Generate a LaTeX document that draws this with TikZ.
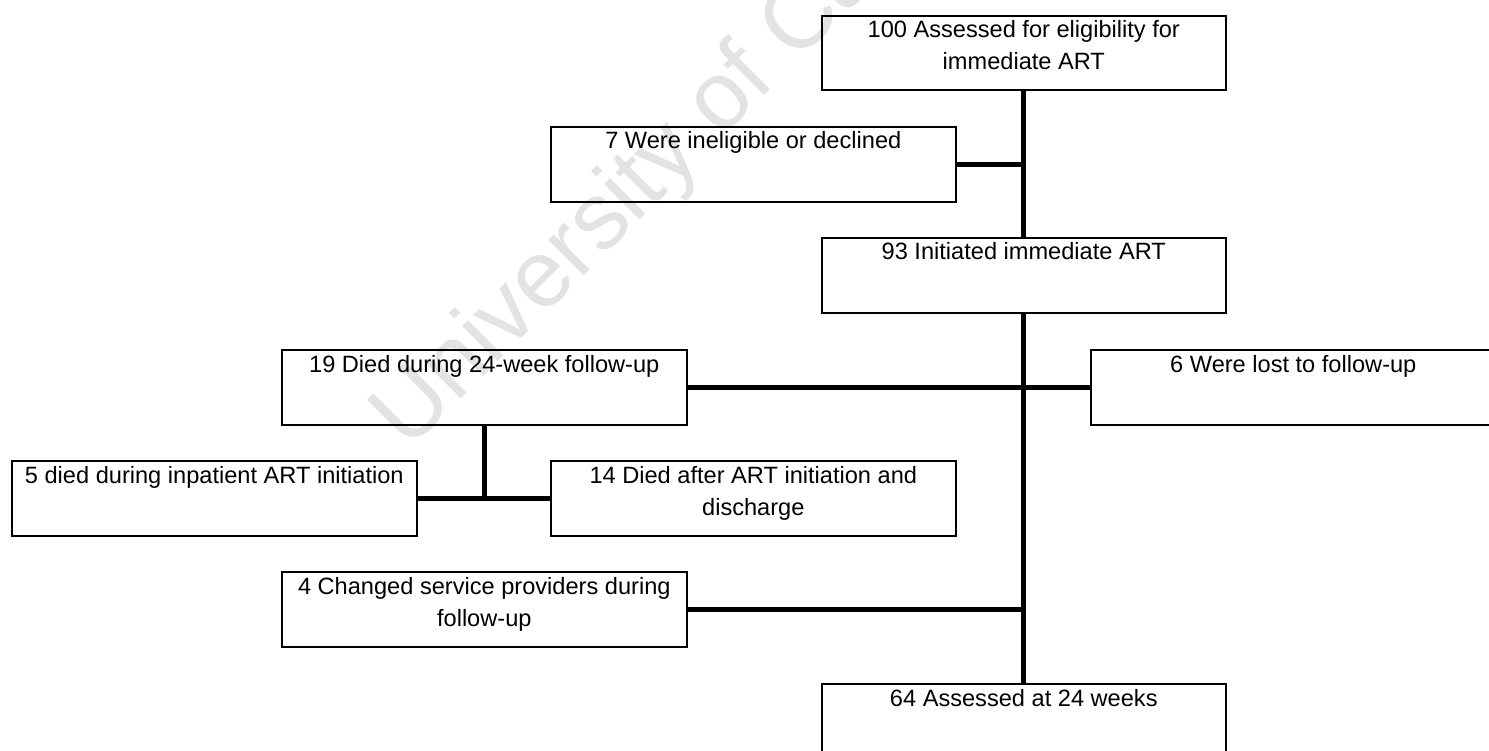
\documentclass[tikz,border=0pt]{standalone}
\usepackage{fontspec}
\setmainfont{Liberation Sans}
\usetikzlibrary{calc}
\tikzset{
  box/.style={draw=black, line width=1.6pt, minimum width=405pt, minimum height=75pt, anchor=north west, inner sep=0pt},
  lbl/.style={anchor=base, align=center, inner sep=0pt, font=\fontsize{23.6}{32}\selectfont},
  conn/.style={line width=5pt, line cap=butt},
  wmark/.style={text=black!11, font=\fontsize{95}{95}\selectfont, rotate=45, anchor=base west, inner sep=0pt}
}
\begin{document}
\begin{tikzpicture}[x=1pt,y=-1pt]
\begin{scope}
\clip (0,0) rectangle (1489,751);
\fill[white] (0,0) rectangle (1489,751);
\node[wmark] (wm) at (408,452) {University of Cape Town};
% boxes
\node[box, minimum width=404pt, minimum height=74pt] (b100) at (821,15) {};
\node[box] (b7) at (550,126) {};
\node[box, minimum width=404pt] (b93) at (821,237) {};
\node[box] (b19) at (281,349) {};
\node[box] (b6) at (1090,349) {};
\node[box] (b5) at (11,460) {};
\node[box] (b14) at (550,460) {};
\node[box] (b4) at (281,571) {};
\node[box, minimum width=404pt, minimum height=90pt] (b64) at (821,683) {};
% texts (base = last line baseline)
\node[lbl] (t100) at ($(b100.north)+(0,55)$) {100 Assessed for eligibility for\\immediate ART};
\node[lbl] (t7) at ($(b7.north)+(0,23)$) {7 Were ineligible or declined};
\node[lbl] (t93) at ($(b93.north)+(0,23)$) {93 Initiated immediate ART};
\node[lbl] (t19) at ($(b19.north)+(0,23)$) {19 Died during 24-week follow-up};
\node[lbl] (t6) at ($(b6.north)+(0,23)$) {6 Were lost to follow-up};
\node[lbl] (t5) at ($(b5.north)+(0,23)$) {5 died during inpatient ART initiation};
\node[lbl] (t14) at ($(b14.north)+(0,55)$) {14 Died after ART initiation and\\discharge};
\node[lbl] (t4) at ($(b4.north)+(0,55)$) {4 Changed service providers during\\follow-up};
\node[lbl] (t64) at ($(b64.north)+(0,23)$) {64 Assessed at 24 weeks};
% connectors
\draw[conn] (b100.south) -- (b93.north);
\draw[conn] (b93.south) -- (b64.north);
\draw[conn] (b7.east) -- (b7.east -| b100.south);
\draw[conn] (b19.east) -- (b6.west);
\coordinate (j19) at (b19.south |- b5.east);
\draw[conn] (b19.south) -- ([yshift=-2.5pt]j19);
\draw[conn] (b5.east) -- (b14.west);
\draw[conn] (b4.east) -- (b4.east -| b100.south);
\end{scope}
\pgfresetboundingbox
\useasboundingbox (0,0) rectangle (1489,751);
\end{tikzpicture}
\end{document}
